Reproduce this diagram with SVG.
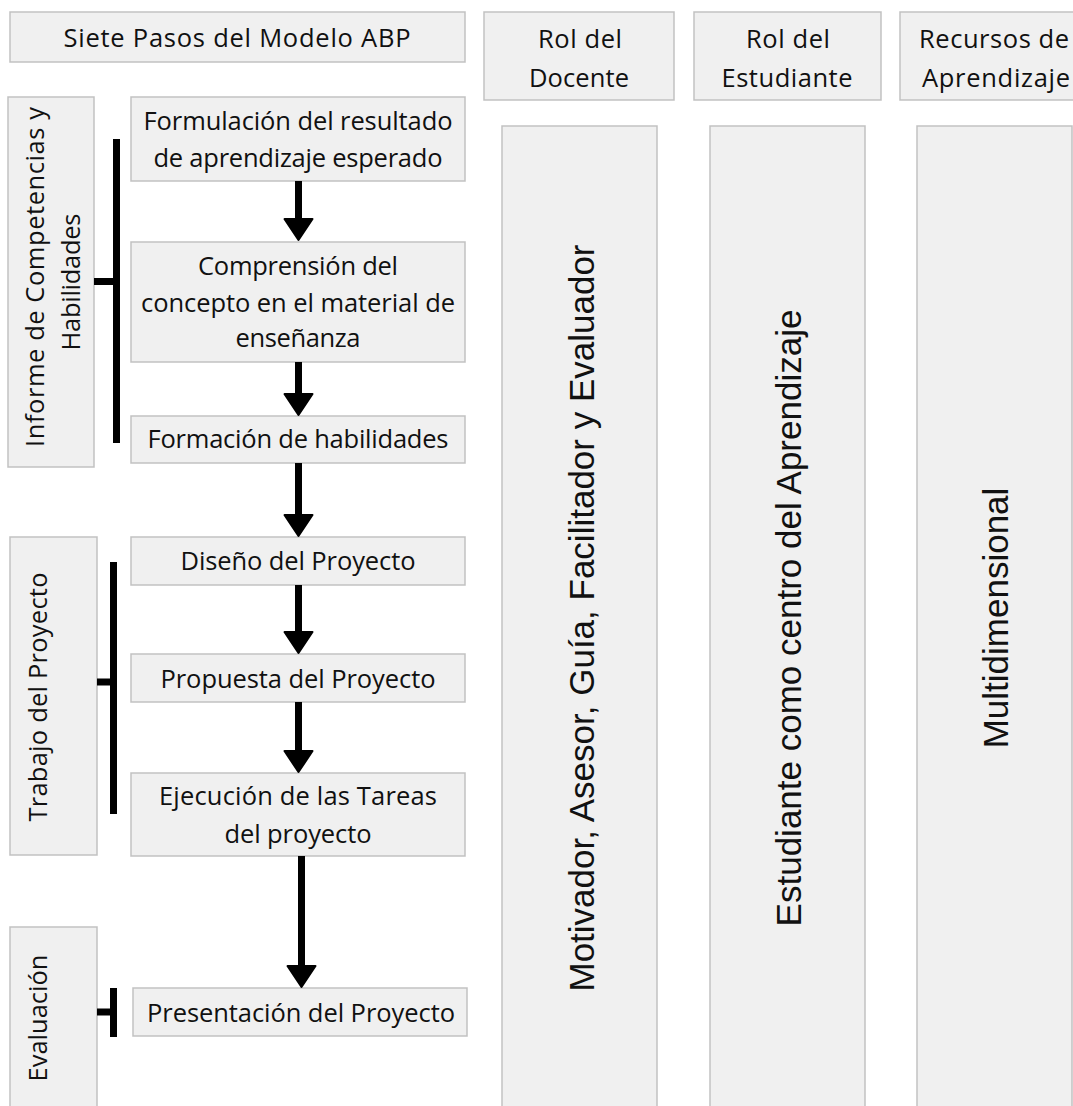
<svg xmlns="http://www.w3.org/2000/svg" width="1073" height="1106" viewBox="0 0 1073 1106">
  <style>
    .box { fill: #f0f0f0; stroke: #c2c2c2; stroke-width: 1.5; }
    .t { font-family: "Open Sans", "Noto Sans", "DejaVu Sans", sans-serif; font-size: 25.5px; fill: #111; text-anchor: middle; }
    .v { font-family: "Liberation Sans", Arial, sans-serif; font-size: 35px; fill: #111; text-anchor: middle; }
    .bar { fill: none; stroke: #000; stroke-width: 7; }
    .arrow { fill: none; stroke: #000; stroke-width: 7; marker-end: url(#head); }
  </style>
  <defs>
    <marker id="head" markerUnits="userSpaceOnUse" viewBox="-1 -17 25 34" refX="0" refY="0" markerWidth="25" markerHeight="34" orient="auto">
      <path d="M0,-14 L21,0 L0,14 Z" fill="#000" stroke="#000" stroke-width="2" stroke-linejoin="round"/>
    </marker>
  </defs>

  <rect width="1073" height="1106" fill="#fff"/>

  <!-- column headers -->
  <g id="title">
    <rect class="box" x="10" y="12" width="455" height="50"/>
    <text class="t" x="237" y="47" textLength="347" lengthAdjust="spacing">Siete Pasos del Modelo ABP</text>
  </g>
  <g id="hdr-docente">
    <rect class="box" x="484" y="12" width="190" height="88"/>
    <text class="t" x="580" y="48" textLength="84" lengthAdjust="spacing">Rol del</text>
    <text class="t" x="579" y="87" textLength="100" lengthAdjust="spacing">Docente</text>
  </g>
  <g id="hdr-estudiante">
    <rect class="box" x="694" y="12" width="187" height="88"/>
    <text class="t" x="788" y="48" textLength="84" lengthAdjust="spacing">Rol del</text>
    <text class="t" x="787" y="87" textLength="131" lengthAdjust="spacing">Estudiante</text>
  </g>
  <g id="hdr-recursos">
    <rect class="box" x="900" y="12" width="194" height="88"/>
    <text class="t" x="994" y="48" textLength="150" lengthAdjust="spacing">Recursos de</text>
    <text class="t" x="996" y="87" textLength="148" lengthAdjust="spacing">Aprendizaje</text>
  </g>

  <!-- phase labels -->
  <g id="fase-informe">
    <rect class="box" x="8" y="97" width="86" height="370"/>
    <text class="t" transform="translate(44,277) rotate(-90)" textLength="340" lengthAdjust="spacing">Informe de Competencias y</text>
    <text class="t" transform="translate(80,282) rotate(-90)" textLength="137" lengthAdjust="spacing">Habilidades</text>
  </g>
  <g id="fase-trabajo">
    <rect class="box" x="10" y="537" width="87" height="318"/>
    <text class="t" transform="translate(47,697) rotate(-90)" textLength="249" lengthAdjust="spacing">Trabajo del Proyecto</text>
  </g>
  <g id="fase-evaluacion">
    <rect class="box" x="10" y="927" width="87" height="200"/>
    <text class="t" transform="translate(47,1018) rotate(-90)" textLength="127" lengthAdjust="spacing">Evaluación</text>
  </g>

  <!-- steps -->
  <g id="paso-1">
    <rect class="box" x="131" y="97" width="334" height="84"/>
    <text class="t" x="298" y="130" textLength="309" lengthAdjust="spacing">Formulación del resultado</text>
    <text class="t" x="298" y="167" textLength="289" lengthAdjust="spacing">de aprendizaje esperado</text>
  </g>
  <g id="paso-2">
    <rect class="box" x="131" y="242" width="334" height="120"/>
    <text class="t" x="298" y="275" textLength="200" lengthAdjust="spacing">Comprensión del</text>
    <text class="t" x="298" y="312" textLength="314" lengthAdjust="spacing">concepto en el material de</text>
    <text class="t" x="298" y="347" textLength="125" lengthAdjust="spacing">enseñanza</text>
  </g>
  <g id="paso-3">
    <rect class="box" x="131" y="416" width="334" height="47"/>
    <text class="t" x="298" y="448" textLength="301" lengthAdjust="spacing">Formación de habilidades</text>
  </g>
  <g id="paso-4">
    <rect class="box" x="131" y="537" width="334" height="48"/>
    <text class="t" x="298" y="570" textLength="235" lengthAdjust="spacing">Diseño del Proyecto</text>
  </g>
  <g id="paso-5">
    <rect class="box" x="131" y="654" width="334" height="48"/>
    <text class="t" x="298" y="688" textLength="275" lengthAdjust="spacing">Propuesta del Proyecto</text>
  </g>
  <g id="paso-6">
    <rect class="box" x="131" y="773" width="334" height="83"/>
    <text class="t" x="298" y="805" textLength="278" lengthAdjust="spacing">Ejecución de las Tareas</text>
    <text class="t" x="298" y="843" textLength="147" lengthAdjust="spacing">del proyecto</text>
  </g>
  <g id="paso-7">
    <rect class="box" x="133" y="988" width="334" height="48"/>
    <text class="t" x="301" y="1022" textLength="308" lengthAdjust="spacing">Presentación del Proyecto</text>
  </g>

  <!-- role columns -->
  <g id="col-docente">
    <rect class="box" x="502" y="126" width="155" height="1000"/>
    <text class="v" transform="translate(594,618) rotate(-90)">Motivador, Asesor, Guía, Facilitador y Evaluador</text>
  </g>
  <g id="col-estudiante">
    <rect class="box" x="710" y="126" width="155" height="1000"/>
    <text class="v" transform="translate(801,618) rotate(-90)">Estudiante como centro del Aprendizaje</text>
  </g>
  <g id="col-recursos">
    <rect class="box" x="917" y="126" width="155" height="1000"/>
    <text class="v" transform="translate(1008,618) rotate(-90)">Multidimensional</text>
  </g>

  <!-- connectors: step flow arrows and phase brackets -->
  <g id="connectors">
    <path class="arrow" d="M298.5,181 V219"/>
    <path class="arrow" d="M298.5,362 V394"/>
    <path class="arrow" d="M298.5,463 V515"/>
    <path class="arrow" d="M298.5,585 V632"/>
    <path class="arrow" d="M298.5,702 V751"/>
    <path class="arrow" d="M301.5,856 V966"/>

    <path class="bar" d="M116.5,139 V443 M94,281.5 H116.5"/>
    <path class="bar" d="M113.5,562 V814 M97,682 H113.5"/>
    <path class="bar" d="M113.5,988 V1037 M97,1012 H113.5"/>
  </g>
</svg>
